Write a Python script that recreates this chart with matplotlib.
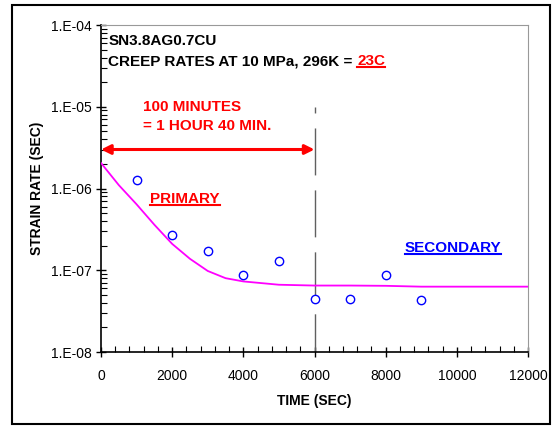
import math
import matplotlib.pyplot as plt
from matplotlib.patches import Rectangle
from matplotlib.lines import Line2D
from matplotlib.ticker import LogLocator, MultipleLocator, FuncFormatter

plt.rcParams['font.family'] = ['Liberation Sans', 'DejaVu Sans']

# measured creep rates
time_pts = [1000, 2000, 3000, 4000, 5000, 6000, 7000, 8000, 9000]
rate_pts = [1.26e-6, 2.7e-7, 1.72e-7, 8.8e-8, 1.31e-7, 4.4e-8, 4.4e-8, 8.8e-8, 4.3e-8]

# fitted curve
time_fit = [0, 500, 1000, 1500, 2000, 2500, 3000, 3500, 4000, 5000, 6000, 7000, 8000, 9000, 10000, 12000]
rate_fit = [2.05e-6, 1.1e-6, 6.4e-7, 3.6e-7, 2.1e-7, 1.38e-7, 9.8e-8, 8.0e-8, 7.3e-8,
            6.65e-8, 6.5e-8, 6.5e-8, 6.45e-8, 6.3e-8, 6.3e-8, 6.3e-8]

fig = plt.figure(figsize=(5.56, 4.26), dpi=100)
ax = fig.add_axes([0.1817, 0.1737, 0.7679, 0.7676])

ax.plot(time_fit, rate_fit, color='#ff00ff', lw=1.3, zorder=3)
ax.plot(time_pts, rate_pts, 'o', mfc='white', mec='#0000ff', ms=6, mew=1.0, zorder=4)

# 6000 s marker line (drawn top down)
ax.plot([6000, 6000], [1e-5, 1e-8], color='#606060', lw=1.0,
        linestyle=(29.5, (33.8, 10.8)), zorder=2)

ax.annotate('', xy=(6000, 3e-6), xytext=(0, 3e-6),
            arrowprops=dict(arrowstyle='<|-|>', color='#ff0000', lw=2.2,
                            mutation_scale=14, shrinkA=0, shrinkB=0))

ax.set_yscale('log')
ax.set_xlim(0, 12000)
ax.set_ylim(1e-8, 1e-4)
ax.xaxis.set_major_locator(MultipleLocator(2000))
ax.xaxis.set_minor_locator(MultipleLocator(400))
ax.yaxis.set_major_locator(LogLocator(base=10))
ax.yaxis.set_minor_locator(LogLocator(base=10, subs=range(2, 10)))
ax.yaxis.set_major_formatter(FuncFormatter(lambda v, p: '1.E-%02d' % round(-math.log10(v))))
ax.tick_params(which='major', direction='inout', length=7, width=1, labelsize=10)
ax.tick_params(which='minor', direction='in', length=4, width=0.8)
ax.tick_params(axis='x', which='major', pad=9)
for s in ['top', 'right']:
    ax.spines[s].set_color('#999999')
ax.spines['left'].set_linewidth(1.2)
ax.spines['bottom'].set_linewidth(1.2)

ax.set_xlabel('TIME (SEC)', fontsize=10, fontweight='bold', labelpad=8)
ax.set_ylabel('STRAIN RATE (SEC)', fontsize=10, fontweight='bold', labelpad=5)

kw = dict(fontsize=11, fontweight='bold', va='center', ha='left')
ax.text(210, 6.3e-5, 'SN3.8AG0.7CU', color='black', **kw)
t1 = ax.text(210, 3.6e-5, 'CREEP RATES AT 10 MPa, 296K = ', color='black', **kw)
ax.text(1170, 1.0e-5, '100 MINUTES', color='#ff0000', **kw)
ax.text(1170, 5.8e-6, '= 1 HOUR 40 MIN.', color='#ff0000', **kw)
t_prim = ax.text(1390, 7.4e-7, 'PRIMARY', color='#ff0000', **kw)
t_sec = ax.text(8540, 1.88e-7, 'SECONDARY', color='#0000ff', **kw)

fig.canvas.draw()
r = fig.canvas.get_renderer()
bb = t1.get_window_extent(r)
x_end = ax.transData.inverted().transform((bb.x1, bb.y0))[0]
t_23 = ax.text(x_end, 3.6e-5, '23C', color='#ff0000', **kw)
fig.canvas.draw()


def underline(t, color):
    b = t.get_window_extent(r)
    y = b.y0 + 1
    fig.add_artist(Line2D([b.x0 / fig.bbox.width, b.x1 / fig.bbox.width],
                          [y / fig.bbox.height, y / fig.bbox.height],
                          color=color, lw=1.5))


underline(t_23, '#ff0000')
underline(t_prim, '#ff0000')
underline(t_sec, '#0000ff')

fig.add_artist(Rectangle((12 / 556, 1 - 424 / 426), 538 / 556, 419 / 426,
                         fill=False, edgecolor='black', lw=1.5,
                         transform=fig.transFigure))

fig.savefig('out.png', dpi=100)
